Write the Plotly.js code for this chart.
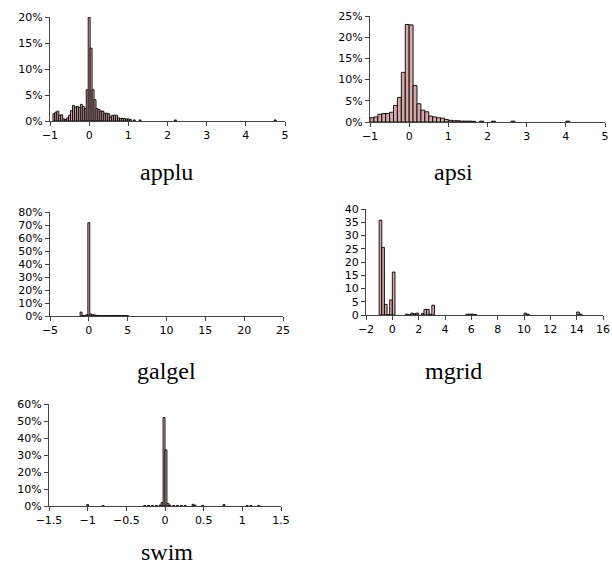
<!DOCTYPE html>
<html><head><meta charset="utf-8">
<script src="https://cdn.plot.ly/plotly-3.0.1.min.js"></script>
<style>html,body{margin:0;padding:0;background:#fff}#chart{width:612px;height:569px}</style>
</head><body><div id="chart"></div>
<script>
// applu (percent)
const appluX = [-0.9,-0.85,-0.8,-0.75,-0.7,-0.65,-0.6,-0.55,-0.5,-0.45,-0.4,-0.35,-0.3,-0.25,-0.2,-0.15,-0.1,-0.05,0,0.05,0.1,0.15,0.2,0.25,0.3,0.35,0.4,0.45,0.5,0.55,0.6,0.65,0.7,0.75,0.8,0.85,0.9,0.95,1.0,1.05,1.15,1.3,2.2,4.75];
const appluY = [1.4,1.7,1.9,1.1,1.2,0.4,0.3,0.6,1.1,2.0,3.0,2.7,2.8,2.6,3.2,2.8,2.4,6.0,20.0,14.0,6.0,4.1,2.4,2.2,1.9,1.9,1.5,1.5,1.4,0.8,1.1,1.1,1.1,0.6,0.5,0.5,0.5,0.4,0.4,0.3,0.2,0.2,0.2,0.2];
// apsi (percent)
const apsiX = [-0.95,-0.85,-0.75,-0.65,-0.55,-0.45,-0.35,-0.25,-0.15,-0.05,0.05,0.15,0.25,0.35,0.45,0.55,0.65,0.75,0.85,0.95,1.05,1.15,1.25,1.35,1.45,1.55,1.65,1.85,2.15,2.65,4.05];
const apsiY = [1.0,1.2,1.8,2.0,2.0,2.3,3.9,5.8,11.7,23.0,22.9,8.6,4.3,2.8,2.4,1.4,1.2,1.0,0.9,0.6,0.4,0.3,0.3,0.2,0.2,0.2,0.15,0.2,0.2,0.2,0.2];
// galgel (percent)
const galgelX = [-1.0,-0.75,-0.5,-0.25,0,0.25,0.5,0.75,1.0,1.25,1.5,1.75,2.0,2.25,2.5,2.75,3.0,3.25,3.5,3.75,4.0,4.25,4.5,4.75,5.0];
const galgelY = [3.0,0.3,0.3,1.0,71.8,1.5,1.0,0.8,0.5,0.4,0.3,0.3,0.3,0.3,0.3,0.3,0.3,0.3,0.3,0.3,0.3,0.3,0.3,0.2,0.2];
// mgrid (counts)
const mgridX = [-0.9,-0.7,-0.5,-0.3,-0.1,0.1,1.1,1.3,1.5,1.7,1.9,2.3,2.5,2.7,2.9,3.1,5.7,5.9,6.1,6.3,10.1,10.3,14.1,14.3];
const mgridY = [35.8,25.5,4.0,0.2,5.7,16.2,0.3,0.1,0.7,0.5,0.7,0.5,2.1,2.1,0.3,3.7,0.3,0.3,0.3,0.2,0.7,0.3,1.1,0.3];
// swim (percent)
const swimX = [-1.0,-0.8,-0.2625,-0.2125,-0.1625,-0.1125,-0.0625,-0.0375,-0.0125,0.0125,0.0375,0.0625,0.1125,0.1625,0.2125,0.2625,0.3625,0.3875,0.4875,0.7625,1.0625,1.1125,1.2125];
const swimY = [0.8,0.3,0.3,0.3,0.3,0.3,0.5,2.0,52.0,33.0,1.5,0.5,0.3,0.3,0.3,0.3,1.0,0.5,0.3,0.8,0.3,0.3,0.3];

const W = 612, H = 569;
const fill = '#d6a8a8';
function bar(x, y, ax) {
  return {type:'bar', x:x, y:y, xaxis:'x'+ax, yaxis:'y'+ax,
    marker:{color:fill, line:{color:'#000', width:0.9}}, hoverinfo:'skip'};
}
const traces = [bar(appluX,appluY,''), bar(apsiX,apsiY,'2'), bar(galgelX,galgelY,'3'), bar(mgridX,mgridY,'4'), bar(swimX,swimY,'5')];

const tickFont = {family:'DejaVu Sans, Arial, sans-serif', size:11, color:'#000'};
function xa(x0,x1,r,dt,anchor){return {domain:[x0/W,x1/W], range:r, dtick:dt, tick0:0, anchor:anchor,
  showline:true, linecolor:'#444', linewidth:1, ticks:'outside', ticklen:4, tickcolor:'#444',
  showgrid:false, zeroline:false, tickfont:tickFont, fixedrange:true};}
function ya(y0,y1,r,dt,suf,anchor){return {domain:[1-y1/H,1-y0/H], range:r, dtick:dt, tick0:0, anchor:anchor,
  showline:true, linecolor:'#444', linewidth:1, ticks:'outside', ticklen:4, tickcolor:'#444',
  ticksuffix:suf, showgrid:false, zeroline:false, tickfont:tickFont, fixedrange:true};}

const titleFont = {family:'Liberation Serif, Times New Roman, serif', size:24, color:'#000'};
function ann(t,cx,cy){return {text:t, x:cx/W, y:1-cy/H, xref:'paper', yref:'paper', showarrow:false,
  xanchor:'center', yanchor:'middle', font:titleFont};}

const layout = {
  width:W, height:H, margin:{l:0,r:0,t:0,b:0}, showlegend:false,
  paper_bgcolor:'#fff', plot_bgcolor:'#fff', bargap:0,
  xaxis: xa(50,285,[-1,5],1,'y'),
  yaxis: ya(17,121,[0,20],5,'%','x'),
  xaxis2: xa(370,605,[-1,5],1,'y2'),
  yaxis2: ya(16,122,[0,25],5,'%','x2'),
  xaxis3: xa(50,283,[-5,25],5,'y3'),
  yaxis3: ya(212,316,[0,80],10,'%','x3'),
  xaxis4: xa(366,603,[-2,16],2,'y4'),
  yaxis4: ya(209,315,[0,40],5,'','x4'),
  xaxis5: xa(49,281,[-1.5,1.5],0.5,'y5'),
  yaxis5: ya(404,506,[0,60],10,'%','x5'),
  annotations:[ann('applu',167,172), ann('apsi',453,172), ann('galgel',167,371), ann('mgrid',453,371), ann('swim',167,552)]
};
Plotly.newPlot('chart', traces, layout, {staticPlot:true, displayModeBar:false});
</script></body></html>
